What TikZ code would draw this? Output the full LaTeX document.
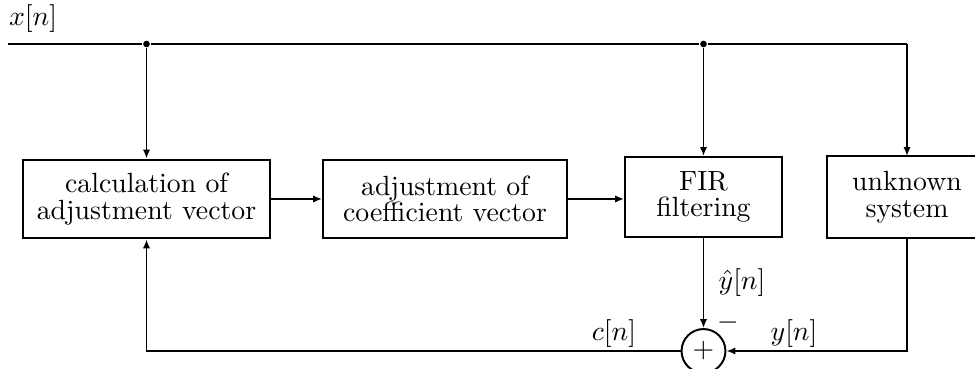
\documentclass[tikz,border=0pt]{standalone}
\usetikzlibrary{arrows.meta}
\begin{document}
\begin{tikzpicture}[x=0.36pt,y=-0.36pt,
  line width=0.7pt,
  blk/.style={draw, line width=0.7pt, align=center, inner sep=0pt,
    font=\fontsize{10}{9.6}\selectfont},
  arr/.style={-{Latex[length=3.2pt,width=2.6pt]}},
  lbl/.style={inner sep=0pt, font=\fontsize{10}{12}\selectfont},
  jdot/.style={circle, fill, inner sep=0pt, minimum size=2.4pt}]
\useasboundingbox (0,0) rectangle (975,369);
\begin{scope}
\clip (0,0) rectangle (975,369);
\node[blk, minimum width=88.9pt, minimum height=28.4pt] (calc) at (146.5,199) {calculation of\\adjustment vector};
\node[blk, minimum width=87.8pt, minimum height=28.4pt] (adj) at (445,199) {adjustment of\\coefficient vector};
\node[blk, minimum width=56.5pt, minimum height=28.8pt] (fir) at (703.5,197) {FIR\\filtering};
\node[blk, draw=none, minimum width=56.9pt, minimum height=28.8pt] (unk) at (907,197) {unknown\\system};
\draw[line width=0.7pt] (unk.north east) -- (unk.north west) -- (unk.south west) -- (unk.south east);
\node[draw, circle, line width=0.7pt, minimum size=15.8pt, inner sep=0pt] (sum) at (703.5,351) {$+$};
\coordinate (start) at (8,44);
\node[jdot] (j1) at (146.5,44) {};
\node[jdot] (j2) at (703.5,44) {};
\coordinate (corner) at (907,44);
\node[lbl] (xl) at (33,19) {$x[n]$};
\draw (start) -- (j1) -- (j2) -- (corner);
\draw[arr] (corner) -- (unk.north);
\draw[arr] (j1) -- (calc.north);
\draw[arr] (j2) -- (fir.north);
\draw[arr] (calc.east) -- (calc.east -| adj.west);
\draw[arr] (adj.east) -- (adj.east -| fir.west);
\draw[arr] (fir.south) -- (sum.north);
\draw[arr] (unk.south) |- (sum.east);
\draw[arr] (sum.west) -| (calc.south);
\node[lbl] (yh) at (742,283) {$\hat{y}[n]$};
\node[lbl] (mi) at (728,323) {$-$};
\node[lbl] (cl) at (614,334) {$c[n]$};
\node[lbl] (yl) at (794,334) {$y[n]$};
\end{scope}
\end{tikzpicture}
\end{document}
